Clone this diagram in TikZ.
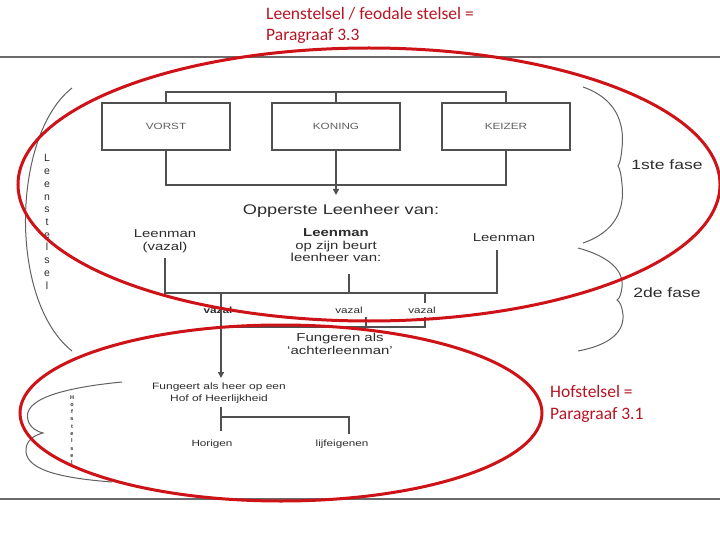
\documentclass[tikz,border=0pt]{standalone}
\usepackage{fontspec}
\setmainfont{Liberation Sans}
\newfontfamily\redfont{Carlito}
\usepackage{graphicx}
\usetikzlibrary{arrows.meta}
\definecolor{ln}{RGB}{80,80,80}
\definecolor{tx}{RGB}{45,45,45}
\definecolor{bx}{RGB}{95,95,95}
\definecolor{rd}{RGB}{205,18,24}
\definecolor{rdtx}{RGB}{185,20,35}
\newcommand\sx[1]{\scalebox{1.3}[1]{#1}}
\newcommand\fs[2]{\fontsize{#1}{#2}\selectfont}
\begin{document}
\begin{tikzpicture}[x=1pt,y=-1pt,
  pageline/.style={draw=ln!85,line width=1.4pt},
  conn/.style={draw=ln,line width=1.4pt},
  arr/.style={conn,-{Triangle[width=6pt,length=6pt]}},
  box/.style={draw=ln,line width=1.4pt,minimum width=128pt,minimum height=47pt,inner sep=0pt,text=bx,font=\fs{9}{11}},
  lbl/.style={inner sep=0pt,text=tx,align=center},
  letter/.style={inner sep=0pt,text=tx,anchor=base,text height=7pt,text depth=0pt},
  brace/.style={draw=ln!90,line width=1pt},
  redring/.style={draw=rd,line width=3pt},
  redlbl/.style={inner sep=0pt,text=rdtx,anchor=west,font=\redfont\fs{17.5}{21.5},align=left}]
\useasboundingbox (0,0) rectangle (720,540);
\fill[white] (0,0) rectangle (720,540);
% page lines
\draw[pageline] (0,57) -- (720,57);
\draw[pageline] (0,499) -- (720,499);
% boxes
\node[box] (vorst) at (166,126.5) {\sx{VORST}};
\node[box] (koning) at (336,126.5) {\sx{KONING}};
\node[box] (keizer) at (506,126.5) {\sx{KEIZER}};
\coordinate (t1) at (166,92); \coordinate (t3) at (506,92);
\draw[conn] (vorst.north) -- (t1) -- (t3) -- (keizer.north);
\draw[conn] (koning.north) -- (koning.north |- t1);
\coordinate (b1) at (166,185); \coordinate (b3) at (506,185);
\draw[conn] (vorst.south) -- (b1) -- (b3) -- (keizer.south);
% opperste leenheer
\node[lbl,font=\fs{14}{16}] (opp) at (341,211) {\sx{Opperste Leenheer van:}};
\coordinate (oppin) at (336,195);
\draw[arr] (koning.south) -- (oppin);
% leenman
\node[lbl,font=\fs{11.5}{13}] (lm1) at (165,241.5) {\sx{\begin{tabular}{@{}c@{}}Leenman\\(vazal)\end{tabular}}};
\node[lbl,font=\fs{11.5}{12.5}] (lm2) at (336,246.5) {\sx{\begin{tabular}{@{}c@{}}\textbf{Leenman}\\op zijn beurt\\leenheer van:\end{tabular}}};
\node[lbl,font=\fs{11.5}{13}] (lm3) at (504,238) {\sx{Leenman}};
\coordinate (h1) at (165,293); \coordinate (h3) at (497,293);
\coordinate (l2) at (165,258); \coordinate (m2) at (349,274); \coordinate (r2) at (497,250);
\draw[conn] (l2) -- (h1) -- (h3) -- (r2);
\draw[conn] (m2) -- (m2 |- h1);
% vazal
\node[lbl,font=\fs{9}{10}\bfseries] (vz1) at (218,310) {\sx{vazal}};
\node[lbl,font=\fs{9}{10}] (vz2) at (349,310) {\sx{vazal}};
\node[lbl,font=\fs{9}{10}] (vz3) at (422,310) {\sx{vazal}};
\coordinate (v1) at (221,293); \coordinate (v3) at (425,293); \coordinate (v3b) at (425,303);
\draw[conn] (v3) -- (v3b);
\coordinate (k1) at (221,327); \coordinate (k3) at (425,327); \coordinate (k3t) at (425,317);
\coordinate (k2) at (366,327); \coordinate (k2t) at (366,317);
\draw[conn] (k3t) -- (k3) -- (k1);
\draw[conn] (k2t) -- (k2);
\node[lbl,font=\fs{11.5}{13}] (fa) at (340,345.5) {\sx{\begin{tabular}{@{}c@{}}Fungeren als\\`achterleenman'\end{tabular}}};
% hof
\node[lbl,font=\fs{9.2}{11.5}] (fh) at (219,393) {\sx{\begin{tabular}{@{}c@{}}Fungeert als heer op een\\Hof of Heerlijkheid\end{tabular}}};
\coordinate (fhin) at (221,378);
\draw[arr] (v1) -- (fhin);
\coordinate (f1) at (221,407); \coordinate (f2) at (221,417); \coordinate (f3) at (349,417);
\coordinate (f1b) at (221,431); \coordinate (f3b) at (349,434);
\draw[conn] (f1) -- (f1b);
\draw[conn] (f2) -- (f3) -- (f3b);
\node[lbl,font=\fs{9}{10}] (hor) at (212,444) {\sx{Horigen}};
\node[lbl,font=\fs{9}{10}] (lij) at (342,444) {\sx{lijfeigenen}};
% side labels
\node[lbl,font=\fs{13.5}{15}] (fase1) at (667,165) {\sx{1ste fase}};
\node[lbl,font=\fs{13.5}{15}] (fase2) at (667,293) {\sx{2de fase}};
% braces
\draw[brace] (72,88) .. controls (12,135) and (8,300) .. (72,351);
\draw[brace] (583,87) .. controls (615,98) and (625,122) .. (622,148) .. controls (621,158) and (620,163) .. (618,166)
  .. controls (620,169) and (621,174) .. (622,184) .. controls (625,210) and (615,232) .. (583,243);
\draw[brace] (578,248) .. controls (608,256) and (624,270) .. (622,287) .. controls (621,294) and (620,298) .. (617,300)
  .. controls (620,302) and (622,306) .. (623,315) .. controls (624,332) and (610,345) .. (578,351);
\draw[brace] (122,382) .. controls (60,388) and (22,400) .. (28,420) .. controls (30,428) and (38,432) .. (43,433)
  .. controls (35,435) and (25,440) .. (26,452) .. controls (28,470) and (60,478) .. (112,482);
% vertical words
\foreach \c [count=\i from 0] in {L,e,e,n,s,t,e,l,s,e,l}
  \node[letter,font=\fs{10.5}{12}] (ls\i) at (47,162+12.7*\i) {\c};
\foreach \c [count=\i from 0] in {H,o,f,s,t,e,l,s,e,l}
  \node[letter,font=\fs{5.5}{6}\bfseries,text height=4pt] (hs\i) at (72,399+7.3*\i) {\c};
% red rings
\draw[redring] (369,184.5) ellipse [x radius=351, y radius=136.5];
\draw[redring] (281,413) ellipse [x radius=261, y radius=88];
% red labels
\node[redlbl] (t33) at (266,25.5) {Leenstelsel / feodale stelsel =\\Paragraaf 3.3};
\node[redlbl] (t31) at (550,404) {Hofstelsel =\\Paragraaf 3.1};
\end{tikzpicture}
\end{document}
